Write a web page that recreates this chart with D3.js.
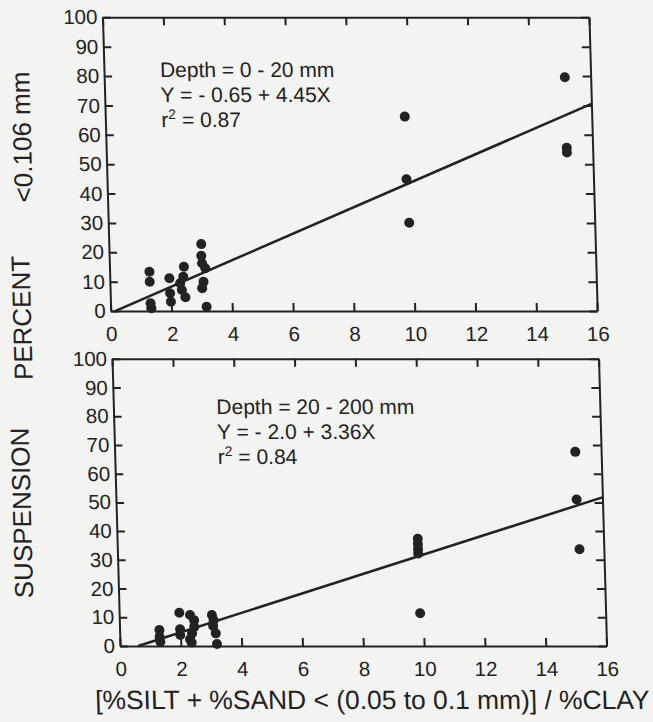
<!DOCTYPE html>
<html>
<head>
<meta charset="utf-8">
<script src="https://cdn.jsdelivr.net/npm/d3@7"></script>
<style>
  body { margin: 0; background: #f3f3f1; }
  svg { display: block; }
</style>
</head>
<body>
<script>
// tick values
const xTicks = [0, 2, 4, 6, 8, 10, 12, 14, 16];
const yTicks = [0, 10, 20, 30, 40, 50, 60, 70, 80, 90, 100];

// upper panel, depth 0 - 20 mm
const shallowX = [15.15, 9.85, 15.15, 15.15, 9.85, 9.9, 1.31, 1.31, 1.32, 1.34, 1.96, 1.97, 1.99,
                  2.45, 2.31, 2.36, 2.47, 2.42, 3.04, 3.03, 3.05, 3.15, 3.08, 3.03, 3.16];
const shallowY = [79.6, 66.2, 55.6, 54.0, 44.9, 30.1, 13.4, 10.0, 2.7, 1.0, 11.2, 6.1, 3.2,
                  15.1, 9.5, 7.2, 4.7, 11.7, 22.8, 18.8, 16.3, 14.6, 10.0, 7.8, 1.5];

// lower panel, depth 20 - 200 mm
const deepX = [15.15, 15.15, 15.2, 9.89, 9.89, 9.89, 9.89, 9.9, 1.31, 1.31, 1.33, 1.98, 1.99,
               1.99, 2.33, 2.46, 2.46, 2.38, 2.31, 2.36, 3.05, 3.1, 3.08, 3.16, 3.19];
const deepY = [67.6, 51.0, 33.7, 37.3, 35.5, 33.8, 32.2, 11.4, 5.6, 3.2, 1.5, 11.6, 5.8,
               3.8, 10.8, 9.0, 6.7, 4.4, 2.3, 1.2, 10.8, 9.0, 7.0, 4.4, 0.7];

// regression fits  Y = a + bX
const shallowFit = { a: -0.65, b: 4.45 };
const deepFit = { a: -2.0, b: 3.36 };

const shallowText = ["Depth = 0 - 20 mm", "Y = - 0.65 + 4.45X", "0.87"];
const deepText = ["Depth = 20 - 200 mm", "Y = - 2.0 + 3.36X", "0.84"];

const width = 653, height = 722;
const ink = "#222";
const font = "'Liberation Sans', Arial, Helvetica, sans-serif";

const svg = d3.select("body").append("svg")
    .attr("width", width)
    .attr("height", height);

// the scanned figure is slightly sheared, so the whole drawing is skewed a bit
const root = svg.append("g")
    .attr("transform", "skewX(1.6)")
    .attr("font-family", font)
    .attr("fill", ink);

const left = 102, right = 588.5;

function drawPanel(top, bottom, xs, ys, fit, lines, textX, textY) {
    const g = root.append("g");

    const x = d3.scaleLinear().domain([0, 16]).range([left, right]);
    const y = d3.scaleLinear().domain([0, 100]).range([bottom, top]);

    // axes with inward ticks, the domain lines make the frame
    const bottomAxis = g.append("g")
        .attr("transform", `translate(0,${bottom})`)
        .call(d3.axisBottom(x).tickValues(xTicks).tickSizeInner(-8).tickSizeOuter(0).tickPadding(15));
    const topAxis = g.append("g")
        .attr("transform", `translate(0,${top})`)
        .call(d3.axisTop(x).tickValues(xTicks).tickSizeInner(-8).tickSizeOuter(0).tickFormat(""));
    const leftAxis = g.append("g")
        .attr("transform", `translate(${left},0)`)
        .call(d3.axisLeft(y).tickValues(yTicks).tickSizeInner(-8).tickSizeOuter(0).tickPadding(5));
    const rightAxis = g.append("g")
        .attr("transform", `translate(${right},0)`)
        .call(d3.axisRight(y).tickValues(yTicks).tickSizeInner(-8).tickSizeOuter(0).tickFormat(""));

    [bottomAxis, topAxis, leftAxis, rightAxis].forEach(a => {
        a.attr("font-family", null).attr("font-size", null);
        a.selectAll("path, line").attr("stroke", ink).attr("stroke-width", 2);
        a.selectAll("text").attr("fill", ink).style("font-size", "20.5px");
    });

    // fitted line, starts where it crosses zero
    const x0 = -fit.a / fit.b;
    g.append("path")
        .datum([[x0, 0], [16, fit.a + fit.b * 16]])
        .attr("d", d3.line().x(d => x(d[0])).y(d => y(d[1])))
        .attr("fill", "none")
        .attr("stroke", ink)
        .attr("stroke-width", 2.5);

    // points
    g.selectAll("circle")
        .data(xs.map((v, i) => [v, ys[i]]))
        .enter()
        .append("circle")
        .attr("cx", d => x(d[0]))
        .attr("cy", d => y(d[1]))
        .attr("r", 5)
        .attr("fill", ink);

    // equation text
    const t = g.append("g").style("font-size", "21px");
    t.append("text").attr("x", textX).attr("y", textY).text(lines[0]);
    t.append("text").attr("x", textX).attr("y", textY + 25).text(lines[1]);
    const r2 = t.append("text").attr("x", textX).attr("y", textY + 50);
    r2.append("tspan").text("r");
    r2.append("tspan").attr("dy", -8).style("font-size", "14px").text("2");
    r2.append("tspan").attr("dy", 8).text(" = " + lines[2]);
}

drawPanel(17.3, 311.1, shallowX, shallowY, shallowFit, shallowText, 158, 77);
drawPanel(358.8, 646, deepX, deepY, deepFit, deepText, 205, 414);

// axis titles
const yTitle = [["SUSPENSION", 513], ["PERCENT", 318], ["<0.106 mm", 137]];
yTitle.forEach(([s, cy]) => {
    root.append("text")
        .attr("transform", `translate(${31 - 0.028 * cy},${cy}) rotate(-90)`)
        .attr("text-anchor", "middle")
        .style("font-size", "26px")
        .text(s);
});

root.append("text")
    .attr("x", 630)
    .attr("y", 709)
    .attr("text-anchor", "end")
    .style("font-size", "26.4px")
    .text("[%SILT + %SAND < (0.05 to 0.1 mm)] / %CLAY");
</script>
</body>
</html>
